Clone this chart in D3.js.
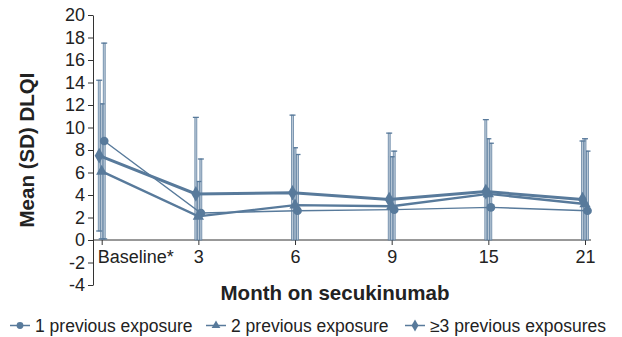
<!DOCTYPE html>
<html>
<head>
<meta charset="utf-8">
<script src="https://cdn.jsdelivr.net/npm/d3@7"></script>
<style>
  body { margin: 0; background: #fff; }
  svg text { font-family: "Liberation Sans", Arial, sans-serif; fill: #222; }
</style>
</head>
<body>
<svg id="chart" width="622" height="337"></svg>
<script>
// categories and values
const months = ["Baseline*", "3", "6", "9", "15", "21"];
const yTicks = [-4, -2, 0, 2, 4, 6, 8, 10, 12, 14, 16, 18, 20];

const mean1 = [8.8, 2.4, 2.6, 2.7, 2.9, 2.6];   // 1 previous exposure
const sd1   = [8.7, 4.8, 5.0, 5.2, 5.7, 5.3];
const mean2 = [6.1, 2.1, 3.1, 3.0, 4.1, 3.2];   // 2 previous exposure
const sd2   = [6.0, 3.1, 5.1, 4.4, 4.9, 5.8];
const mean3 = [7.5, 4.1, 4.2, 3.6, 4.3, 3.6];   // >=3 previous exposures
const sd3   = [6.7, 6.8, 6.9, 5.9, 6.4, 5.2];

const seriesNames = ["1 previous exposure", "2 previous exposure", "\u22653 previous exposures"];

const COLOR = "#587a9b";

const series = [
  {name: seriesNames[0], mean: mean1, sd: sd1, shape: d3.symbolCircle, size: 60, width: 1.4, dx: 2.5},
  {name: seriesNames[1], mean: mean2, sd: sd2, shape: d3.symbolTriangle, size: 55, width: 2.4, dx: 0},
  {name: seriesNames[2], mean: mean3, sd: sd3, shape: d3.symbolDiamond, size: 70, width: 3, dx: -2.5}
];

const svg = d3.select("#chart");

const x = d3.scalePoint().domain(months).range([101.7, 585]);
const y = d3.scaleLinear().domain([-4, 20]).range([285, 15]);

// y axis (plain hyphen for negatives, like the original)
const yAxis = svg.append("g")
  .attr("transform", "translate(93,0)")
  .call(d3.axisLeft(y).tickValues(yTicks).tickFormat(d => String(d))
    .tickSize(5).tickSizeOuter(0).tickPadding(3));
yAxis.select(".domain").attr("stroke", "#333");
yAxis.selectAll(".tick line").attr("stroke", "#333");
yAxis.selectAll("text").style("font-size", "18px").attr("fill", "#222");

// x axis at zero
const xAxis = svg.append("g")
  .attr("transform", "translate(0," + y(0) + ")")
  .call(d3.axisBottom(x).tickSize(5).tickSizeOuter(0).tickPadding(5));
xAxis.select(".domain").remove();
xAxis.append("line").attr("x1", 93).attr("x2", 591).attr("stroke", "#333");
xAxis.selectAll(".tick line").attr("stroke", "#333");
xAxis.selectAll("text").style("font-size", "18px").attr("fill", "#222")
  .attr("text-anchor", d => d === "Baseline*" ? "start" : "middle")
  .attr("x", d => d === "Baseline*" ? -4.5 : 0);

// error bars
series.forEach(s => {
  const g = svg.append("g");
  s.mean.forEach((m, i) => {
    const cx = x(months[i]) + s.dx;
    const top = m + s.sd[i];
    const bot = Math.max(0, m - s.sd[i]);
    g.append("rect")
      .attr("x", cx - 1).attr("width", 2)
      .attr("y", y(top)).attr("height", y(bot) - y(top))
      .attr("fill", "#b9c8d7").attr("stroke", COLOR).attr("stroke-width", 0.7);
    g.append("line")
      .attr("x1", cx - 3).attr("x2", cx + 3)
      .attr("y1", y(top)).attr("y2", y(top))
      .attr("stroke", COLOR).attr("stroke-width", 1.3);
    if (m - s.sd[i] > 0) {
      g.append("line")
        .attr("x1", cx - 3).attr("x2", cx + 3)
        .attr("y1", y(bot)).attr("y2", y(bot))
        .attr("stroke", COLOR).attr("stroke-width", 1.3);
    }
  });
});

// lines + markers
series.forEach(s => {
  const line = d3.line()
    .x((d, i) => x(months[i]) + s.dx)
    .y(d => y(d));
  svg.append("path")
    .datum(s.mean)
    .attr("d", line)
    .attr("fill", "none")
    .attr("stroke", COLOR)
    .attr("stroke-width", s.width);
  svg.append("g").selectAll("path")
    .data(s.mean)
    .join("path")
    .attr("d", d3.symbol().type(s.shape).size(s.size))
    .attr("transform", (d, i) => "translate(" + (x(months[i]) + s.dx) + "," + y(d) + ")")
    .attr("fill", COLOR);
});

// axis titles
svg.append("text")
  .attr("transform", "translate(34,150) rotate(-90)")
  .attr("text-anchor", "middle")
  .style("font-size", "20.5px").style("font-weight", "bold")
  .text("Mean (SD) DLQI");

svg.append("text")
  .attr("x", 335).attr("y", 300)
  .attr("text-anchor", "middle")
  .style("font-size", "20.5px").style("font-weight", "bold")
  .text("Month on secukinumab");

// legend
const legendX = [10, 206, 405];
series.forEach((s, i) => {
  const g = svg.append("g").attr("transform", "translate(" + legendX[i] + ",325.5)");
  g.append("line").attr("x1", 0).attr("x2", 20).attr("stroke", COLOR).attr("stroke-width", 1.5);
  g.append("path")
    .attr("d", d3.symbol().type(s.shape).size(s.size * 0.6))
    .attr("transform", "translate(10,0)")
    .attr("fill", COLOR);
  g.append("text")
    .attr("x", 25).attr("y", 6)
    .style("font-size", "17.5px")
    .text(s.name);
});
</script>
</body>
</html>
